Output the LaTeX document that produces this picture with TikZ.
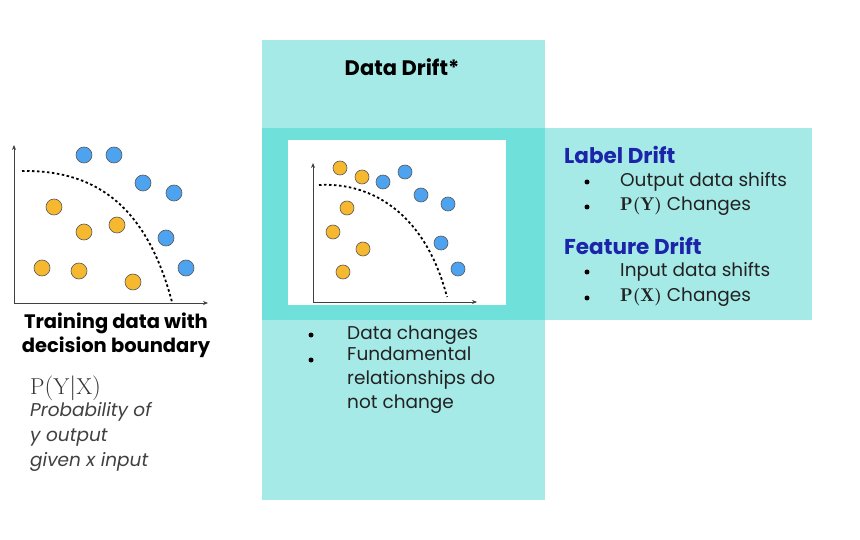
\documentclass[tikz,border=0pt]{standalone}
\usepackage{bm}
\usepackage{fontspec}
\usetikzlibrary{arrows.meta}
\newfontfamily\dm{Poppins}
\definecolor{driftlight}{RGB}{166,234,232}
\definecolor{driftdark}{RGB}{112,224,218}
\definecolor{ptorange}{RGB}{246,184,46}
\definecolor{ptblue}{RGB}{77,163,240}
\definecolor{drifttitle}{RGB}{28,36,170}
\definecolor{bodytext}{RGB}{34,34,34}
\tikzset{
  txt/.style={anchor=west, inner sep=0pt, text=bodytext, font=\dm\fontsize{18.5}{24}\selectfont},
  bul/.style={circle, fill=black, inner sep=0pt, minimum size=5pt},
  title/.style={anchor=west, inner sep=0pt, text=drifttitle, font=\dm\bfseries\fontsize{21.5}{24}\selectfont},
  axis/.style={line width=0.9pt, black!75, {Stealth[length=5pt,width=4pt]}-{Stealth[length=5pt,width=4pt]}},
  boundary/.style={line width=1.8pt, dash pattern=on 2.5pt off 2.5pt},
  orangept/.style={fill=ptorange, draw=black!65, line width=0.6pt},
  bluept/.style={fill=ptblue, draw=black!65, line width=0.6pt}
}
\begin{document}
\begin{tikzpicture}[x=1pt,y=-1pt]
  \useasboundingbox[fill=white] (0,0) rectangle (860,540);
  % panels
  \fill[driftlight] (262,40) rectangle (545,500);
  \fill[driftlight] (545,128) rectangle (812,320);
  \fill[driftdark] (262,128) rectangle (545,320);
  \fill[white] (288,140) rectangle (506,305);

  % training data plot
  \coordinate (lo) at (14,303);
  \coordinate (ltop) at (14,145);
  \coordinate (lright) at (208,303);
  \draw[axis] (ltop) -- (lo) -- (lright);
  \draw[boundary] (22,171) .. controls (90,170) and (145,200) .. (172,302);
  \foreach \x/\y in {54/207, 84/232, 117/225, 42/268, 79/271, 133/282}
    \draw[orangept] (\x,\y) circle (8);
  \foreach \x/\y in {84/155, 114/155, 143/183, 174/193, 166/238, 186/268}
    \draw[bluept] (\x,\y) circle (8);

  \node[inner sep=0pt, align=center, font=\dm\bfseries\fontsize{19.5}{24}\selectfont] (train) at (116,335) {Training data with\\decision boundary};
  \node[anchor=west, inner sep=0pt, font=\fontsize{23}{24}\selectfont, text=black!80] (pyx) at (30,388) {$\mathrm{P(Y|X)}$};
  \node[txt, align=left, anchor=north west, text=black!75, font=\dm\itshape\fontsize{18.5}{25}\selectfont] (prob) at (30,402) {Probability of\\y output\\given x input};

  % drifted data plot
  \coordinate (mo) at (313,302);
  \coordinate (mtop) at (313,163);
  \coordinate (mright) at (477,302);
  \draw[axis] (mtop) -- (mo) -- (mright);
  \draw[boundary] (319,185) .. controls (370,182) and (425,212) .. (447,297);
  \foreach \x/\y in {340/168, 362/177, 347/208, 333/232, 363/249, 343/272}
    \draw[orangept] (\x,\y) circle (7);
  \foreach \x/\y in {383/182, 405/172, 421/195, 448/204, 441/243, 458/269}
    \draw[bluept] (\x,\y) circle (7);

  % data drift
  \node[inner sep=0pt, font=\dm\bfseries\fontsize{21}{24}\selectfont] (ddrift) at (402,67) {Data Drift*};
  \node[bul] (db1) at (311,335) {};
  \node[txt] (dt1) at (347,335) {Data changes};
  \node[bul] (db2) at (311,360) {};
  \node[txt, anchor=north west, align=left] (dt2) at (347,347) {Fundamental\\relationships do\\not change};

  % label and feature drift
  \node[title] (ldrift) at (564,155) {Label Drift};
  \node[bul] (lb1) at (587,182) {};
  \node[txt] (lt1) at (620,182) {Output data shifts};
  \node[bul] (lb2) at (587,207) {};
  \node[txt] (lt2) at (620,206) {$\bm{\mathrm{P(Y)}}$ Changes};
  \node[title] (fdrift) at (564,246) {Feature Drift};
  \node[bul] (fb1) at (587,272) {};
  \node[txt] (ft1) at (620,272) {Input data shifts};
  \node[bul] (fb2) at (587,298) {};
  \node[txt] (ft2) at (620,297) {$\bm{\mathrm{P(X)}}$ Changes};
\end{tikzpicture}
\end{document}
